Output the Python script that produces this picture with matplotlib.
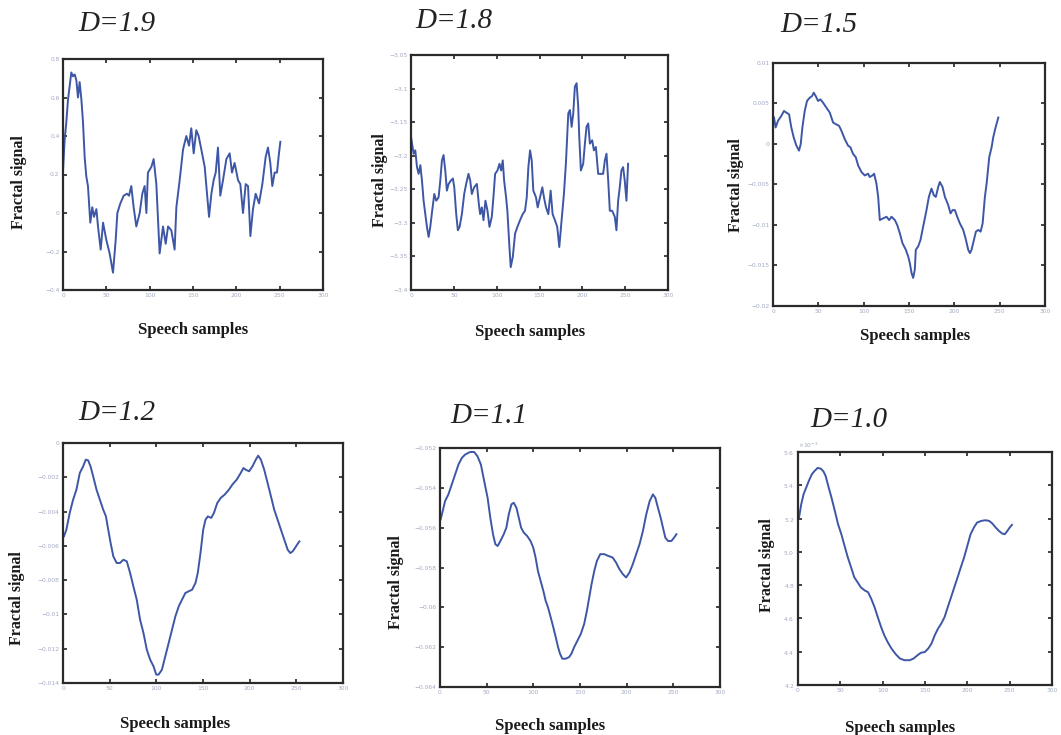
import matplotlib
matplotlib.use("Agg")
import matplotlib.pyplot as plt
from matplotlib.ticker import ScalarFormatter, FuncFormatter

# ---------------- data ----------------
titles = ["D=1.9", "D=1.8", "D=1.5", "D=1.2", "D=1.1", "D=1.0"]
x_label = "Speech samples"
y_label = "Fractal signal"
x_ticks = [0, 50, 100, 150, 200, 250, 300]

d19_x = [0, 1.9, 3.8, 5.8, 9.6, 11.5, 13.5, 15.4, 17.3, 19.2, 21.2, 23.1, 25, 26.9, 28.8, 31.5, 33.8, 35.8,
         38.5, 40.4, 43.5, 46.2, 50, 53.8, 57.7, 60.8, 62.7, 66.2, 70, 73.8, 76.2, 78.8, 81.5, 84.6, 88.5,
         91.5, 94.2, 96.2, 98, 102, 104.6, 107.7, 109.6, 111.5, 115.4, 118.5, 121.2, 125, 128.8, 130.8,
         134.6, 138.5, 142.3, 145.4, 148, 150.8, 153.8, 156.5, 159.6, 163.5, 165.4, 168.5, 171.2, 173.8,
         176.2, 178.8, 181.5, 184.6, 188.5, 192.3, 195, 198, 202, 204.6, 207.7, 210.8, 213.5, 216.2,
         219.2, 222.3, 226.2, 230, 233.8, 236.5, 239.2, 241.5, 244.2, 246.9, 249.2, 250.8]
d19_y = [0.22, 0.38, 0.47, 0.59, 0.73, 0.71, 0.72, 0.69, 0.60, 0.68, 0.59, 0.47, 0.29, 0.19, 0.14, -0.05,
         0.03, -0.02, 0.02, -0.07, -0.19, -0.05, -0.14, -0.21, -0.31, -0.14, 0.0, 0.05, 0.09, 0.10, 0.09,
         0.14, 0.03, -0.07, 0.0, 0.10, 0.14, 0.0, 0.21, 0.24, 0.28, 0.15, -0.03, -0.21, -0.07, -0.16,
         -0.07, -0.09, -0.19, 0.03, 0.17, 0.33, 0.40, 0.35, 0.44, 0.31, 0.43, 0.40, 0.33, 0.24, 0.14,
         -0.02, 0.10, 0.17, 0.21, 0.34, 0.09, 0.17, 0.28, 0.31, 0.21, 0.26, 0.17, 0.15, 0.0, 0.15, 0.14,
         -0.12, 0.02, 0.10, 0.05, 0.15, 0.29, 0.34, 0.26, 0.14, 0.21, 0.21, 0.31, 0.37]

d18_x = [0, 1.2, 3.1, 5, 7, 8.9, 10.9, 12.8, 14.7, 16.7, 18.6, 20.6, 22.5, 25.2, 27.2, 29.5, 32.2, 34.2,
         36.1, 38, 40, 41.9, 43.9, 46.6, 48.9, 50.5, 52.8, 54.7, 56.7, 59.4, 62.1, 64.4, 67.1, 69.1, 71,
         73.7, 76.9, 79.2, 80.7, 82.7, 84.6, 86.9, 89.3, 91.6, 94.3, 96.2, 98.2, 100.9, 103.3, 105.2,
         107.1, 108.7, 111, 112.5, 114.9, 116.4, 118.8, 121.5, 124.2, 127.3, 130.4, 133.1, 135.1, 137,
         139, 140.9, 142.8, 145.9, 147.9, 150.6, 153.3, 155.2, 157.6, 160.3, 163, 165.3, 168, 170.7,
         173.1, 175.8, 178.5, 180.8, 183.6, 185.5, 187.5, 189.4, 191.3, 193.3, 195.2, 196.4, 198.3, 201,
         203, 204.9, 206.9, 208.8, 211.5, 213.5, 215.8, 218.5, 221.3, 224.3, 226.3, 228.2, 230.2, 232.1,
         234.8, 237.9, 239.8, 241.8, 243.7, 245.6, 247.6, 249.5, 251.5, 253.4]
d18_y = [-3.172, -3.182, -3.197, -3.192, -3.217, -3.227, -3.214, -3.237, -3.267, -3.287, -3.306, -3.321,
         -3.306, -3.277, -3.257, -3.267, -3.262, -3.237, -3.207, -3.199, -3.222, -3.252, -3.242, -3.237,
         -3.234, -3.247, -3.287, -3.311, -3.306, -3.287, -3.257, -3.242, -3.227, -3.237, -3.257, -3.247,
         -3.242, -3.272, -3.287, -3.277, -3.296, -3.267, -3.282, -3.306, -3.291, -3.262, -3.227, -3.222,
         -3.212, -3.222, -3.207, -3.237, -3.262, -3.282, -3.336, -3.366, -3.351, -3.316, -3.306, -3.296,
         -3.287, -3.282, -3.262, -3.217, -3.192, -3.207, -3.252, -3.262, -3.277, -3.262, -3.247, -3.262,
         -3.277, -3.287, -3.252, -3.287, -3.296, -3.306, -3.336, -3.296, -3.257, -3.212, -3.137, -3.132,
         -3.157, -3.137, -3.097, -3.092, -3.127, -3.172, -3.222, -3.212, -3.182, -3.157, -3.152, -3.182,
         -3.177, -3.192, -3.187, -3.227, -3.227, -3.227, -3.207, -3.197, -3.237, -3.282, -3.282, -3.291,
         -3.311, -3.267, -3.247, -3.222, -3.217, -3.237, -3.267, -3.212]

d15_x = [1.1, 2.9, 5.5, 9.2, 12.1, 14.7, 17.7, 20.2, 22.8, 25.8, 28.7, 30.6, 32.4, 35, 37.5, 40.5, 43.1,
         44.9, 47.1, 49.7, 52.3, 55.2, 58.9, 62.6, 66.3, 69.2, 72.9, 75.5, 79.1, 82.8, 85.4, 88.3, 91.3,
         93.9, 97.6, 101.2, 104.9, 106.7, 109.7, 111.5, 114.1, 116, 117.8, 121.5, 125.2, 128.1, 130.7,
         134.4, 137, 139.9, 142.8, 146.5, 149.1, 150.9, 152.8, 154.6, 156.4, 157.5, 160.1, 162.7, 165.6,
         169.3, 171.9, 174.8, 177.4, 179.6, 182.2, 184, 187, 189.6, 193.3, 195.8, 198.1, 200.6, 203.2,
         206.1, 209.8, 212.8, 215.3, 217.2, 219, 221.6, 223.8, 226.4, 229, 231.2, 233.7, 235.6, 238.5,
         241.1, 242.9, 245.5, 248.5]
d15_y = [0.00327, 0.00204, 0.00286, 0.00347, 0.00408, 0.00388, 0.00367, 0.00204, 0.00082, -0.00020,
         -0.00082, 0.0, 0.00204, 0.00408, 0.00531, 0.00571, 0.00592, 0.00633, 0.00592, 0.00531, 0.00551,
         0.00510, 0.00449, 0.00388, 0.00265, 0.00245, 0.00224, 0.00163, 0.00061, -0.00020, -0.00041,
         -0.00122, -0.00163, -0.00265, -0.00347, -0.00388, -0.00367, -0.00408, -0.00388, -0.00367,
         -0.00490, -0.00653, -0.00939, -0.00918, -0.00898, -0.00939, -0.00898, -0.00939, -0.01000,
         -0.01102, -0.01224, -0.01306, -0.01388, -0.01469, -0.01592, -0.01653, -0.01551, -0.01306,
         -0.01265, -0.01184, -0.01020, -0.00816, -0.00653, -0.00551, -0.00633, -0.00653, -0.00531,
         -0.00469, -0.00531, -0.00653, -0.00755, -0.00857, -0.00816, -0.00816, -0.00898, -0.00980,
         -0.01061, -0.01184, -0.01306, -0.01347, -0.01306, -0.01184, -0.01082, -0.01061, -0.01082,
         -0.00980, -0.00653, -0.00490, -0.00163, -0.00041, 0.00082, 0.00204, 0.00327]

d12_x = [1.1, 3.6, 7.2, 10.8, 14.4, 18, 21.6, 24.4, 26.9, 29.5, 32.3, 35.9, 39.5, 43.1, 46, 48.5, 51, 53.9,
         57.5, 61.1, 64.7, 68.3, 71.9, 75.4, 79, 82.6, 86.2, 89.8, 93.4, 97, 99.9, 102.4, 106, 109.6,
         113.2, 116.8, 120.4, 124, 127.5, 131.1, 134.7, 138.3, 141.9, 144.4, 147.3, 150.2, 152.7, 155.2,
         158.8, 161.7, 165.3, 168.9, 173.2, 177.8, 181.4, 186.1, 190.4, 193.3, 195.8, 199.4, 203, 206.6,
         209.1, 212, 215.6, 219.2, 222.8, 226.3, 229.9, 233.5, 237.1, 240.7, 243.6, 246.1, 248.6, 250.8,
         253.3]
d12_y = [-0.00544, -0.00506, -0.00408, -0.00331, -0.00272, -0.00175, -0.00136, -0.00097, -0.00101,
         -0.00136, -0.00194, -0.00272, -0.00331, -0.00389, -0.00428, -0.00506, -0.00583, -0.00661,
         -0.00700, -0.00700, -0.00681, -0.00690, -0.00758, -0.00836, -0.00914, -0.01031, -0.01108,
         -0.01206, -0.01264, -0.01303, -0.01351, -0.01351, -0.01322, -0.01244, -0.01167, -0.01089,
         -0.01011, -0.00953, -0.00914, -0.00875, -0.00865, -0.00856, -0.00817, -0.00758, -0.00642,
         -0.00506, -0.00447, -0.00428, -0.00437, -0.00408, -0.00350, -0.00321, -0.00301, -0.00272,
         -0.00243, -0.00214, -0.00175, -0.00146, -0.00156, -0.00165, -0.00136, -0.00097, -0.00074,
         -0.00097, -0.00156, -0.00233, -0.00311, -0.00389, -0.00447, -0.00506, -0.00564, -0.00622,
         -0.00642, -0.00632, -0.00612, -0.00593, -0.00574]

d11_x = [0.7, 2.9, 5.4, 9, 12.6, 16.2, 19.8, 23.4, 26.9, 32.3, 36.6, 40.2, 43.8, 47.4, 51, 53.9, 56.8,
         59.3, 61.8, 64.7, 68.3, 71.1, 73.7, 76.5, 79, 81.9, 84.4, 86.9, 89.8, 93.4, 97, 99.9, 102.4,
         104.9, 107.8, 110.7, 113.2, 115.7, 118.6, 121.4, 124, 126.5, 128.6, 131.1, 134.7, 138.3, 140.8,
         143.7, 147.3, 150.9, 154.5, 157.4, 159.9, 162.4, 165.3, 168.1, 171.7, 176, 180.4, 185, 188.6,
         192.2, 195.8, 199.4, 203, 206.6, 210.2, 213.8, 217.4, 221, 224.6, 228.1, 230.7, 233.5, 236.4,
         238.9, 241.4, 244.3, 247.9, 250.8, 253.3]
d11_y = [-0.05558, -0.05517, -0.05467, -0.05433, -0.05383, -0.05333, -0.05283, -0.05250, -0.05233,
         -0.05220, -0.05220, -0.05242, -0.05283, -0.05367, -0.05450, -0.05550, -0.05633, -0.05683,
         -0.05692, -0.05667, -0.05633, -0.05600, -0.05533, -0.05483, -0.05475, -0.05500, -0.05550,
         -0.05600, -0.05625, -0.05642, -0.05667, -0.05700, -0.05750, -0.05817, -0.05867, -0.05917,
         -0.05967, -0.06000, -0.06050, -0.06100, -0.06150, -0.06200, -0.06233, -0.06258, -0.06258,
         -0.06250, -0.06233, -0.06200, -0.06167, -0.06133, -0.06083, -0.06017, -0.05950, -0.05883,
         -0.05817, -0.05767, -0.05733, -0.05733, -0.05742, -0.05750, -0.05775, -0.05808, -0.05833,
         -0.05850, -0.05825, -0.05783, -0.05733, -0.05683, -0.05617, -0.05533, -0.05467, -0.05433,
         -0.05450, -0.05500, -0.05550, -0.05600, -0.05650, -0.05667, -0.05667, -0.05650, -0.05633]

d10_x = [1.2, 3.8, 6.5, 9.6, 12.7, 16.2, 19.2, 23.1, 26.9, 30, 32.7, 35.8, 39.6, 43.5, 47.3, 51.2, 55,
         58.8, 62.7, 66.5, 70.4, 74.2, 78.8, 82.7, 86.5, 90.4, 94.2, 98.1, 101.9, 105.8, 110.4, 115.4,
         120.4, 125.8, 131.9, 136.5, 141.2, 145, 150, 153.8, 157.7, 161.5, 165.4, 169.2, 173.1, 176.9,
         180.8, 184.6, 188.5, 192.3, 196.2, 200, 203.8, 207.7, 211.5, 216.5, 221.2, 225.8, 229.6, 233.5,
         237.3, 241.2, 244.2, 247.3, 250, 252.7]
d10_y = [0.005206, 0.005285, 0.005345, 0.005385, 0.005425, 0.005465, 0.005484, 0.005504, 0.005500,
         0.005484, 0.005455, 0.005395, 0.005325, 0.005246, 0.005166, 0.005106, 0.005036, 0.004967,
         0.004907, 0.004847, 0.004817, 0.004787, 0.004768, 0.004758, 0.004718, 0.004668, 0.004608,
         0.004549, 0.004499, 0.004459, 0.004419, 0.004385, 0.004359, 0.004349, 0.004349, 0.004359,
         0.004379, 0.004393, 0.004399, 0.004419, 0.004449, 0.004499, 0.004539, 0.004569, 0.004608,
         0.004668, 0.004728, 0.004787, 0.004847, 0.004907, 0.004967, 0.005036, 0.005106, 0.005146,
         0.005176, 0.005186, 0.005190, 0.005186, 0.005170, 0.005146, 0.005126, 0.005110, 0.005106,
         0.005126, 0.005146, 0.005162]

y_ticks_19 = [-0.4, -0.2, 0, 0.2, 0.4, 0.6, 0.8]
y_ticks_18 = [-3.4, -3.35, -3.3, -3.25, -3.2, -3.15, -3.1, -3.05]
y_ticks_15 = [-0.02, -0.015, -0.01, -0.005, 0, 0.005, 0.01]
y_ticks_12 = [-0.014, -0.012, -0.01, -0.008, -0.006, -0.004, -0.002, 0]
y_ticks_11 = [-0.064, -0.062, -0.06, -0.058, -0.056, -0.054, -0.052]
y_ticks_10 = [0.0042, 0.0044, 0.0046, 0.0048, 0.005, 0.0052, 0.0054, 0.0056]

series_x = [d19_x, d18_x, d15_x, d12_x, d11_x, d10_x]
series_y = [d19_y, d18_y, d15_y, d12_y, d11_y, d10_y]
y_ticks = [y_ticks_19, y_ticks_18, y_ticks_15, y_ticks_12, y_ticks_11, y_ticks_10]

# ---------------- layout (pixels in a 1061x735 canvas) ----------------
W, H = 1061, 735
boxes = [(63, 59, 323, 290), (411, 55, 668, 290), (773, 63, 1045, 306),
         (63, 443, 343, 683), (440, 448, 720, 687), (798, 452, 1052, 685)]
title_pos = [(78, 31), (415, 28), (780, 32), (78, 420), (450, 423), (810, 427)]
ylab_pos = [(19, 182), (380, 180), (736, 185), (17, 598), (396, 582), (767, 565)]
xlab_pos = [(193, 330), (530, 332), (915, 336), (175, 724), (550, 726), (900, 728)]

line_color = "#3d57a6"
tick_color = "#a3aac2"

fig = plt.figure(figsize=(W / 100, H / 100), dpi=100)
fig.patch.set_facecolor("white")

short_fmt = FuncFormatter(lambda v, p: "{:g}".format(round(v, 6)).replace("-", "\u2212"))

for i in range(6):
    l, t, r, b = boxes[i]
    ax = fig.add_axes([l / W, 1 - b / H, (r - l) / W, (b - t) / H])
    ax.plot(series_x[i], series_y[i], color=line_color, lw=1.4)
    ax.set_xlim(x_ticks[0], x_ticks[-1])
    ax.set_ylim(y_ticks[i][0], y_ticks[i][-1])
    ax.set_xticks(x_ticks)
    ax.set_yticks(y_ticks[i])
    ax.tick_params(direction="in", length=3, width=1.2, color="#222222",
                   labelsize=4.3, labelcolor=tick_color, top=True, right=True, pad=2.5)
    if i == 5:
        fmt = ScalarFormatter(useMathText=True)
        fmt.set_powerlimits((-2, 2))
        ax.yaxis.set_major_formatter(fmt)
        ax.yaxis.get_offset_text().set_fontsize(4.3)
        ax.yaxis.get_offset_text().set_color(tick_color)
    else:
        ax.yaxis.set_major_formatter(short_fmt)
    for s in ax.spines.values():
        s.set_linewidth(1.6)
        s.set_color("#2a2a2a")
    tx, ty = title_pos[i]
    fig.text(tx / W, 1 - ty / H, titles[i], fontsize=21, style="italic",
             family="Liberation Serif", color="#222222", va="baseline", ha="left")
    yx, yy = ylab_pos[i]
    fig.text(yx / W, 1 - yy / H, y_label, fontsize=11.5, rotation=90, weight="bold",
             family="Liberation Serif", color="#1a1a1a", va="center", ha="center")
    xx, xy = xlab_pos[i]
    fig.text(xx / W, 1 - xy / H, x_label, fontsize=12, weight="bold",
             family="Liberation Serif", color="#1a1a1a", va="center", ha="center")

fig.savefig("out.png", dpi=100, facecolor="white")
